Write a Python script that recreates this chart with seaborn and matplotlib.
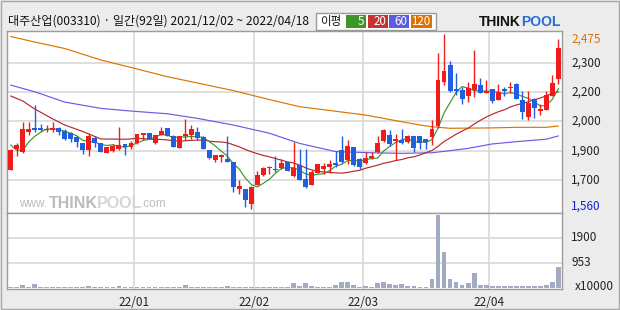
import numpy as np
import pandas as pd
import matplotlib
matplotlib.use("Agg")
import matplotlib.pyplot as plt
import matplotlib.transforms as mtransforms
from matplotlib.patches import Rectangle
import seaborn as sns

# ---------------- data ----------------
title = "대주산업(003310) · 일간(92일) 2021/12/02 ~ 2022/04/18"
holidays = ["2021-12-31", "2022-01-31", "2022-02-01", "2022-02-02", "2022-03-01", "2022-03-09"]
month_labels = ["22/01", "22/02", "22/03", "22/04"]
price_labels = ["2,475", "2,300", "2,200", "2,000", "1,900", "1,700", "1,560"]
vol_labels = ["1900", "953"]
vol_levels = [1906, 953]
vol_unit = "x10000"
ma_names = ["5", "20", "60", "120"]

open_ = [1765, 1875, 1860, 1965, 1985, 1985, 1975, 1975, 1985, 1970,
         1955, 1935, 1905, 1870, 1930, 1905, 1855, 1865, 1875, 1900,
         1885, 1905, 1945, 1955, 1905, 1945, 1985, 1940, 1880, 1940,
         1945, 1965, 1935, 1870, 1815, 1830, 1820, 1805, 1665, 1665,
         1585, 1685, 1740, 1775, 1770, 1775, 1805, 1730, 1790, 1715,
         1685, 1750, 1770, 1780, 1800, 1870, 1815, 1885, 1820, 1800,
         1825, 1860, 1915, 1945, 1915, 1920, 1910, 1940, 1940, 1925,
         1935, 1995, 2225, 2315, 2190, 2180, 2150, 2180, 2210, 2165,
         2190, 2130, 2185, 2195, 2215, 2130, 2040, 2135, 2070, 2075,
         2150, 2240]
high = [1875, 1905, 2015, 2015, 2105, 2005, 2000, 2015, 1990, 1980,
        1960, 1940, 1905, 1955, 1940, 1905, 1885, 1900, 1990, 1900,
        1915, 1950, 1955, 1955, 1945, 1990, 1985, 1945, 1940, 2030,
        2000, 1990, 1940, 1870, 1840, 1850, 1940, 1805, 1710, 1665,
        1680, 1760, 1780, 1785, 1835, 1820, 1805, 1910, 1875, 1875,
        1765, 1795, 1800, 1815, 1865, 1940, 1920, 1885, 1825, 1860,
        1860, 1940, 1980, 1975, 1950, 1980, 1945, 1940, 1940, 1925,
        2025, 2375, 2475, 2335, 2270, 2200, 2225, 2390, 2245, 2235,
        2190, 2215, 2200, 2225, 2220, 2175, 2175, 2140, 2110, 2175,
        2260, 2450]
low = [1765, 1835, 1855, 1945, 1965, 1970, 1965, 1965, 1945, 1920,
       1910, 1885, 1850, 1835, 1885, 1860, 1855, 1860, 1870, 1840,
       1875, 1900, 1920, 1925, 1900, 1945, 1940, 1885, 1880, 1920,
       1925, 1920, 1875, 1820, 1805, 1805, 1805, 1650, 1640, 1570,
       1560, 1685, 1735, 1745, 1755, 1770, 1760, 1725, 1710, 1670,
       1685, 1750, 1745, 1750, 1780, 1800, 1795, 1785, 1770, 1795,
       1820, 1855, 1910, 1890, 1815, 1900, 1905, 1860, 1875, 1875,
       1895, 1985, 2210, 2170, 2155, 2110, 2120, 2145, 2165, 2165,
       2115, 2130, 2150, 2165, 2135, 2030, 2025, 2035, 2050, 2075,
       2150, 2215]
close = [1870, 1895, 1980, 1980, 1975, 1975, 1980, 1985, 1965, 1925,
         1925, 1910, 1870, 1940, 1905, 1860, 1885, 1890, 1895, 1885,
         1905, 1950, 1955, 1925, 1945, 1970, 1940, 1885, 1940, 1950,
         1980, 1930, 1875, 1825, 1840, 1840, 1805, 1675, 1680, 1605,
         1675, 1740, 1775, 1780, 1765, 1800, 1760, 1775, 1710, 1675,
         1755, 1795, 1785, 1795, 1790, 1805, 1890, 1790, 1780, 1825,
         1835, 1905, 1975, 1900, 1925, 1905, 1940, 1880, 1905, 1910,
         1980, 2235, 2280, 2175, 2175, 2135, 2195, 2215, 2165, 2175,
         2125, 2170, 2175, 2200, 2135, 2065, 2115, 2090, 2085, 2155,
         2220, 2400]
volume = [35, 35, 95, 35, 130, 35, 35, 35, 35, 35,
          35, 35, 35, 55, 35, 35, 35, 35, 55, 35,
          35, 35, 35, 35, 35, 35, 35, 35, 35, 95,
          35, 35, 35, 35, 35, 35, 55, 35, 35, 35,
          35, 35, 35, 35, 35, 35, 35, 170, 55, 170,
          55, 35, 35, 35, 100, 215, 215, 100, 35, 65,
          35, 190, 215, 140, 115, 140, 75, 75, 35, 35,
          330, 2770, 1360, 330, 215, 115, 180, 560, 100, 100,
          75, 50, 50, 65, 65, 65, 65, 50, 50, 100,
          215, 790]

ma5_head = [1895, 1868, 1865, 1910]
ma20_head_idx = [0, 2, 4, 7, 9, 12, 15]
ma20_head = [2151, 2125, 2083, 2031, 1999, 1965, 1926]
ma60_idx = [0, 4, 9, 15, 20, 26, 31, 37, 43, 48, 54, 60, 65, 70, 73, 76, 80, 84, 89, 91]
ma60 = [2208, 2173, 2119, 2086, 2072, 2058, 2034, 1999, 1956, 1903, 1860, 1854, 1851,
        1854, 1865, 1877, 1900, 1912, 1925, 1942]
ma120_idx = [0, 4, 9, 15, 20, 26, 31, 37, 43, 48, 54, 59, 65, 68, 70, 73, 80, 84, 89, 91]
ma120 = [2462, 2433, 2399, 2339, 2300, 2252, 2219, 2179, 2132, 2095, 2071, 2051, 2016,
         1999, 1990, 1982, 1984, 1987, 1987, 1994]

# ---------------- derived ----------------
dates = pd.bdate_range("2021-12-02", "2022-04-18")
dates = dates[~dates.isin(pd.to_datetime(holidays))]
n = len(close)
idx = np.arange(n)
df = pd.DataFrame({"idx": idx, "open": open_, "high": high, "low": low,
                   "close": close, "volume": volume, "date": dates[:n]})
months = df["date"].dt.to_period("M")
month_pos = [i - 0.5 for i in range(1, n) if months[i] != months[i - 1]]

closes = pd.Series(close, dtype=float)
ma5_x = list(range(4)) + list(range(4, n))
ma5_y = ma5_head + list(closes.rolling(5).mean()[4:])
ma20_x = ma20_head_idx + list(range(19, n))
ma20_y = ma20_head + list(closes.rolling(20).mean()[19:])

# ---------------- style ----------------
sns.set_theme(style="white")
plt.rcParams["font.family"] = ["Noto Sans CJK KR", "DejaVu Sans"]

RED = "#f01c1c"
BLUE = "#1f5fe0"
C5, C20, C60, C120 = "#3f9628", "#b42a2a", "#6b5be6", "#dc7400"
GRID = "#d9d9d9"
SPINE = "#9c9c9c"
LW = 0.85

W, H = 620, 310
fig = plt.figure(figsize=(W / 100, H / 100), dpi=100, facecolor="#ececec")


def fx(x):
    return x / W


def fy(y):
    return 1 - y / H


ax = fig.add_axes([fx(7), fy(213), 555 / W, 182 / H])
axv = fig.add_axes([fx(7), fy(289), 555 / W, 76 / H])
for a in (ax, axv):
    a.set_facecolor("white")
    for s in a.spines.values():
        s.set_color(SPINE)
        s.set_linewidth(1)
    a.set_xlim(-0.6, n - 0.4)

hi, lo = max(high), min(low)
span = hi - lo
ax.set_ylim(lo - span * 0.0229, hi + span * 0.0171)
levels = np.linspace(hi, lo, 7)
for v in levels[1:-1]:
    ax.axhline(v, color=GRID, lw=1.2, zorder=0)
for p in month_pos:
    ax.axvline(p, color=GRID, lw=1.2, zorder=0)
    axv.axvline(p, color=GRID, lw=1.2, zorder=0)

# watermark
wm_t = fig.transFigure
ax.text(fx(47.5), fy(204), "www.", transform=wm_t, fontsize=8.5, color="#bdbdbd",
        family="Liberation Sans", va="center", ha="right", zorder=1)
ax.text(fx(49), fy(203), "THINK", transform=wm_t, fontsize=11.5, color="#bcbcbc",
        family="Liberation Sans", weight="bold", va="center", ha="left", zorder=1)
ax.text(fx(97), fy(203), "POOL", transform=wm_t, fontsize=11.5, color="#d6d6d6",
        family="Liberation Sans", weight="bold", va="center", ha="left", zorder=1)
ax.text(fx(141), fy(204), ".com", transform=wm_t, fontsize=8.5, color="#bdbdbd",
        family="Liberation Sans", va="center", ha="left", zorder=1)

# moving averages
sns.lineplot(x=ma120_idx, y=ma120, ax=ax, color=C120, lw=LW, errorbar=None, zorder=2)
sns.lineplot(x=ma60_idx, y=ma60, ax=ax, color=C60, lw=LW, errorbar=None, zorder=2)
sns.lineplot(x=ma20_x, y=ma20_y, ax=ax, color=C20, lw=LW, errorbar=None, zorder=2)
sns.lineplot(x=ma5_x, y=ma5_y, ax=ax, color=C5, lw=LW, errorbar=None, zorder=2)

# candles
up = df["close"] >= df["open"]
colors = np.where(up, RED, BLUE)
ax.vlines(df["idx"], df["low"], df["high"], colors=colors, lw=1, zorder=3)
body_lo = np.minimum(df["open"], df["close"])
body_h = np.maximum((df["close"] - df["open"]).abs(), 4)
ax.bar(df["idx"], body_h, bottom=body_lo, width=0.82, color=colors, linewidth=0, zorder=4)

ax.set_xticks([])
ax.set_yticks([])
ax.set_xlabel("")
ax.set_ylabel("")

# price labels on right
trans = mtransforms.blended_transform_factory(ax.transAxes, ax.transData)
for k, (v, lab) in enumerate(zip(levels, price_labels)):
    dy = 0
    col = "#222222"
    if k == 0:
        dy, col = -5, "#e07000"
    elif k == len(levels) - 1:
        dy, col = 2.5, "#1a22cc"
    off = mtransforms.ScaledTranslation(0, dy / 100, fig.dpi_scale_trans)
    ax.text(1 + 9 / 555, v, lab, transform=trans + off, fontsize=8.5, color=col,
            va="center", ha="left", clip_on=False)

# volume
sns.barplot(x=idx, y=volume, ax=axv, native_scale=True, color="#a3abc3", saturation=1,
            width=0.8, errorbar=None, linewidth=0, zorder=3)
axv.set_ylim(-50, 2846)
axv.set_xlim(-0.6, n - 0.4)
for v in vol_levels:
    axv.axhline(v, color=GRID, lw=1.2, zorder=0)
axv.set_yticks([])
axv.set_xticks(month_pos)
axv.set_xticklabels(month_labels)
axv.tick_params(axis="x", length=0, pad=5, labelsize=8.5, labelcolor="#222222")
axv.set_xlabel("")
axv.set_ylabel("")
transv = mtransforms.blended_transform_factory(axv.transAxes, axv.transData)
for v, lab in zip(vol_levels, vol_labels):
    axv.text(1 + 9 / 555, v, lab, transform=transv, fontsize=8.5, color="#222222",
             va="center", ha="left", clip_on=False)
fig.text(fx(575), fy(287), vol_unit, fontsize=8.5, color="#222222", va="center", ha="left")

# title
fig.text(fx(8), fy(21.5), title, fontsize=8.7, color="#111111", va="center", ha="left")

# MA legend box
fig.add_artist(Rectangle((fx(316), fy(30)), 120 / W, 17.5 / H, transform=fig.transFigure,
                         facecolor="white", edgecolor="#9a9a9a", lw=1))
fig.text(fx(320), fy(21.7), "이평", fontsize=8.3, color="#111111", va="center", ha="left")
boxes = [(346, 366), (367.5, 387.5), (389, 409), (410.5, 432)]
for (x0, x1), name, c in zip(boxes, ma_names, [C5, "#c83232", "#5c5ce0", "#e07000"]):
    fig.add_artist(Rectangle((fx(x0), fy(28)), (x1 - x0) / W, 13 / H,
                             transform=fig.transFigure, facecolor=c, edgecolor="none"))
    fig.text(fx(x1 - 1.5), fy(21.7), name, fontsize=8.3, color="white", va="center", ha="right")

# logo
fig.text(fx(521), fy(22), "THINK", fontsize=10, color="#111111", family="Liberation Sans",
         weight="bold", va="center", ha="right")
fig.text(fx(521), fy(22), "POOL", fontsize=10, color="#2a6bd6", family="Liberation Sans",
         weight="bold", va="center", ha="left")

# outer border
fig.add_artist(Rectangle((fx(1), fy(309)), 618 / W, 308 / H, transform=fig.transFigure,
                         fill=False, edgecolor="#a8a8a8", lw=1))

fig.savefig("out.png", dpi=100, facecolor=fig.get_facecolor())
